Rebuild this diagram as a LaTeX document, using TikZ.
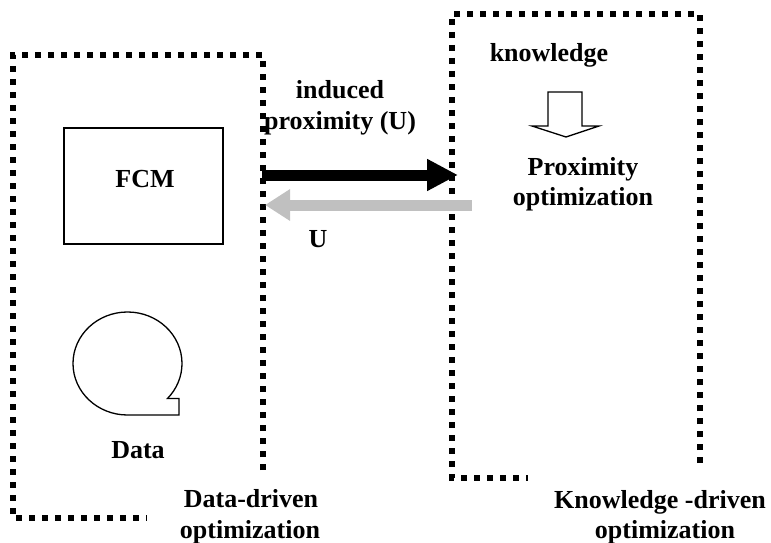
\documentclass[tikz,border=0pt]{standalone}
\usepackage{fontspec}
\setmainfont{Liberation Serif}
\usetikzlibrary{arrows.meta}
\definecolor{arrowgray}{RGB}{192,192,192}
\begin{document}
\begin{tikzpicture}[x=1pt,y=-1pt,
  dotbox/.style={line width=6pt,dash pattern=on 6pt off 7pt},
  lbl/.style={font=\fontsize{26}{31}\selectfont\bfseries,inner sep=0pt,align=center},
  thin/.style={line width=1.3pt},
  blockarrow/.style={line width=11pt}]
\useasboundingbox (0,0) rectangle (771,543);
% dotted open boxes
\draw[dotbox] (263,470) -- (263,55) -- (13,55) -- (13,518) -- (147,518);
\draw[dotbox] (700,463) -- (700,14) -- (452,14) -- (452,478) -- (528,478);
% FCM box
\node[thin,draw,minimum width=159pt,minimum height=116pt,inner sep=0pt] (fcmbox) at (143.5,186) {};
\node[lbl,anchor=base] (fcm) at (145,187) {FCM};
% data shape
\draw[thin] (127.5,415) arc[start angle=90,end angle=402.8,x radius=54.5,y radius=51.5]
  -- (179,398.5) -- (179,415) -- cycle;
\node[lbl,anchor=base] (data) at (138,458) {Data};
% arrows between boxes
\coordinate (blackstart) at (262,175);
\coordinate (blackend) at (458,175);
\coordinate (graystart) at (472,205);
\coordinate (grayend) at (265,205);
\draw[blockarrow,-{Triangle[length=31pt,width=30pt]}] (blackstart) -- (blackend);
\draw[blockarrow,arrowgray,-{Triangle[length=25pt,width=30pt]}] (graystart) -- (grayend);
\node[lbl,anchor=base] (ind1) at (340,98) {induced};
\node[lbl,anchor=base] (ind2) at (340,129) {proximity (U)};
\node[lbl,anchor=base] (u) at (318,247) {U};
% knowledge side
\node[lbl,anchor=base] (know) at (549,62) {knowledge};
\draw[thin] (548,92) -- (582,92) -- (582,126) -- (599,126) -- (566,137) -- (532,126) -- (548,126) -- cycle;
\node[lbl,anchor=base] (prox1) at (583,175) {Proximity};
\node[lbl,anchor=base] (prox2) at (583,205) {optimization};
\node[lbl,anchor=base] (dd1) at (251,507) {Data-driven};
\node[lbl,anchor=base] (dd2) at (250,538) {optimization};
\node[lbl,anchor=base] (kd1) at (660,508) {Knowledge -driven};
\node[lbl,anchor=base] (kd2) at (665,538) {optimization};
\end{tikzpicture}
\end{document}
